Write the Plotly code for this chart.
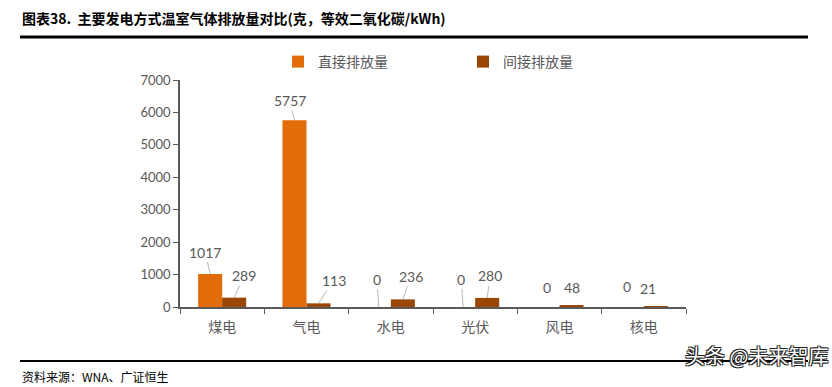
import plotly.graph_objects as go

categories = ["煤电", "气电", "水电", "光伏", "风电", "核电"]
direct = [1017, 5757, 0, 0, 0, 0]
indirect = [289, 113, 236, 280, 48, 21]
series_names = ["直接排放量", "间接排放量"]
y_ticks = [0, 1000, 2000, 3000, 4000, 5000, 6000, 7000]

ORANGE = "#E36C0A"
BROWN = "#9A4706"
GRAY = "#595959"
W, H = 832, 387
L, R, T, B = 180, 146, 80, 80

fig = go.Figure()
fig.add_trace(go.Bar(x=categories, y=direct, name=series_names[0],
                     marker=dict(color=ORANGE, line=dict(width=0))))
fig.add_trace(go.Bar(x=categories, y=indirect, name=series_names[1],
                     marker=dict(color=BROWN, line=dict(width=0))))

# label offsets (style only): (dx, dy, show leader line)
off_direct = [(-5, -22, True), (-5, -20, True), (-2, -28, True), (-2, -28, True), (-1, -20, False), (-5, -21, False)]
off_indirect = [(10, -22, True), (15, -23, True), (8, -23, True), (3, -22, True), (0, -18, False), (-8, -18, False)]
bar_shift = 12

annotations = []
for series, offs, sh in [(direct, off_direct, -bar_shift), (indirect, off_indirect, bar_shift)]:
    for c, v, (dx, dy, show) in zip(categories, series, offs):
        if show:
            annotations.append(dict(x=c, y=v, xref="x", yref="y", text=str(v), xshift=sh,
                                    showarrow=True, arrowhead=0, arrowwidth=0.8, arrowcolor="#A6A6A6",
                                    ax=dx, ay=dy, standoff=0,
                                    font=dict(family="Lato, Liberation Sans", size=14, color=GRAY)))
        else:
            annotations.append(dict(x=c, y=v, xref="x", yref="y", text=str(v), xshift=sh + dx,
                                    yshift=-dy, showarrow=False,
                                    font=dict(family="Lato, Liberation Sans", size=14, color=GRAY)))

def px(xp):
    return (xp - L) / (W - L - R)

def py(yp):
    return (H - B - yp) / (H - T - B)

annotations.append(dict(xref="paper", yref="paper", x=px(20), y=py(18), xanchor="left", yanchor="middle",
                        text="<b>图表38.  主要发电方式温室气体排放量对比(克，等效二氧化碳/kWh)</b>", showarrow=False,
                        font=dict(family="Noto Sans CJK SC", size=14, color="#000000")))
annotations.append(dict(xref="paper", yref="paper", x=px(20), y=py(376), xanchor="left", yanchor="middle",
                        text="资料来源：WNA、广证恒生", showarrow=False,
                        font=dict(family="Noto Sans CJK SC", size=12, color="#000000")))
annotations.append(dict(xref="paper", yref="paper", x=px(830), y=py(355), xanchor="right", yanchor="middle",
                        text="头条 @未来智库", showarrow=False,
                        font=dict(family="Noto Sans CJK SC", size=20, color="#FFFFFF",
                                  shadow="1px 1px 0 #222, -1px -1px 0 #222, 1px -1px 0 #222, -1px 1px 0 #222")))

shapes = [
    dict(type="line", xref="paper", yref="paper", x0=px(20), x1=px(808), y0=py(37), y1=py(37),
         line=dict(color="#000000", width=3)),
    dict(type="line", xref="paper", yref="paper", x0=px(20), x1=px(808), y0=py(361), y1=py(361),
         line=dict(color="#000000", width=2)),
]

fig.update_layout(
    width=W, height=H,
    margin=dict(l=L, r=R, t=T, b=B, pad=0),
    paper_bgcolor="white", plot_bgcolor="white",
    barmode="group", bargap=0.43, bargroupgap=0,
    showlegend=True,
    legend=dict(orientation="h", x=px(278), y=py(62), xanchor="left", yanchor="middle",
                font=dict(family="Noto Sans CJK SC", size=14, color=GRAY),
                entrywidth=140, itemwidth=30, bgcolor="rgba(0,0,0,0)"),
    xaxis=dict(showline=True, linecolor="#595959", linewidth=1.5, ticks="outside", ticklen=5,
               tickcolor="#595959", tickson="boundaries", showgrid=False, ticklabelstandoff=6,
               tickfont=dict(family="Noto Sans CJK SC", size=14, color=GRAY)),
    yaxis=dict(range=[0, 7000], tickvals=y_ticks, showline=True, linecolor="#595959", linewidth=1.5,
               ticks="outside", ticklen=5, tickcolor="#595959", showgrid=False, zeroline=False,
               tickfont=dict(family="Lato, Liberation Sans", size=13, color=GRAY)),
    annotations=annotations, shapes=shapes,
)

fig.write_html("out.html", config={"displayModeBar": False},
               post_script="document.body.style.margin='0';")
